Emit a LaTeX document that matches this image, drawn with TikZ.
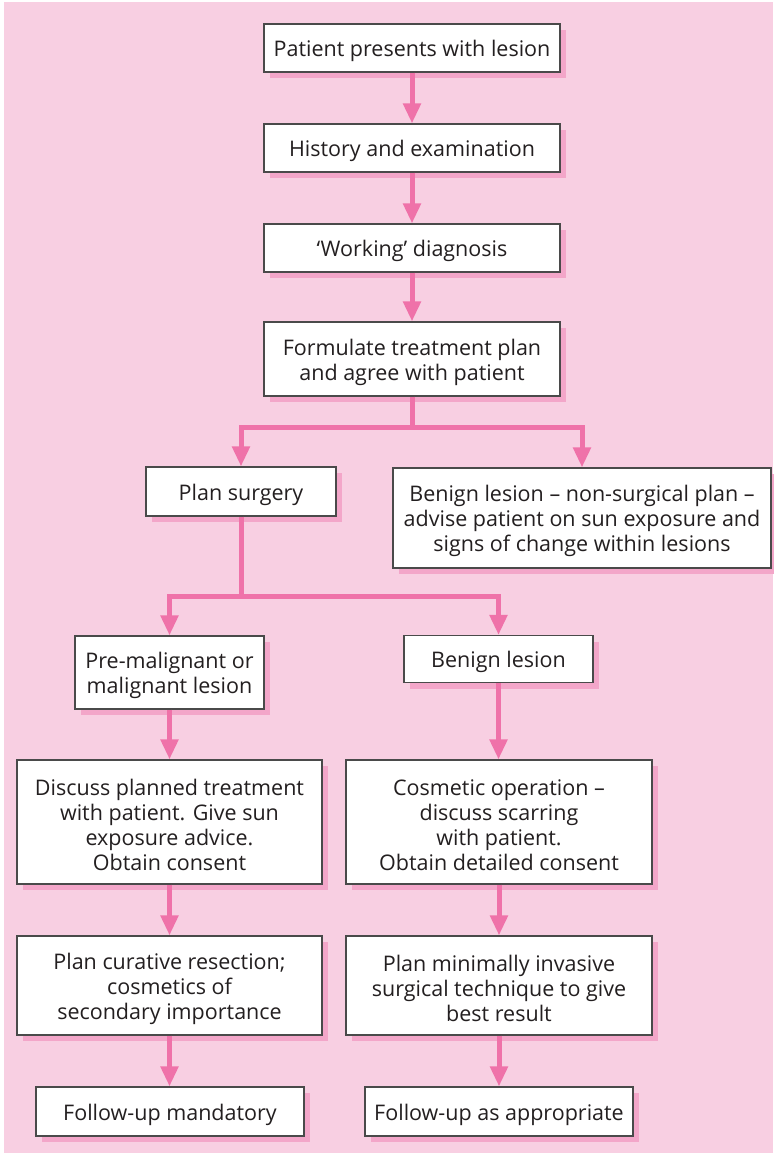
\documentclass[tikz,border=0pt]{standalone}
\usepackage{fontspec}
\setmainfont{Open Sans}
\usetikzlibrary{arrows.meta,shadows}
\definecolor{bgpink}{HTML}{F8CFE2}
\definecolor{arrpink}{HTML}{EF72A9}
\definecolor{shpink}{HTML}{F3A6C9}
\definecolor{boxline}{HTML}{4A4A4A}
\definecolor{txt}{HTML}{231F20}
\tikzset{
  box/.style={draw=boxline, line width=1.1pt, fill=white, inner sep=0pt,
    drop shadow={shadow xshift=6pt, shadow yshift=-6pt, fill=shpink, opacity=1}},
  boxtext/.style={inner sep=0pt, align=center, text=txt,
    font=\fontsize{21.5}{25}\selectfont},
  flow/.style={draw=arrpink, line width=5pt},
  arr/.style={flow, -{Triangle[width=17pt,length=20pt]}},
}
\newcommand{\bx}[6]{%
  \node[box, minimum width=#2pt, minimum height=#3pt] (#1) at (#4,#5) {};
  \node[boxtext] (#1-t) at ([yshift=-3pt]#1.center) {#6};}
\begin{document}
\begin{tikzpicture}[x=1pt,y=-1pt]
\useasboundingbox (0,0) rectangle (773,1155);
\fill[bgpink] (4,2) rectangle (773,1153);
% boxes: name, width, height, cx, cy, text
\bx{n1}{296}{48}{412}{48}{Patient presents with lesion}
\bx{n2}{296}{48}{412}{148}{History and examination}
\bx{n3}{296}{48}{412}{248}{‘Working’ diagnosis}
\bx{n4}{296}{74}{412}{359}{Formulate treatment plan\\and agree with patient}
\bx{n5}{190}{49}{241}{491.5}{Plan surgery}
\bx{n6}{378}{100}{582}{518}{Benign lesion – non-surgical plan –\\advise patient on sun exposure and\\signs of change within lesions}
\bx{n7}{189}{73}{169.5}{672.5}{Pre-malignant or\\malignant lesion}
\bx{n8}{189}{47}{498.5}{659}{Benign lesion}
\bx{n9}{305}{124}{169.5}{822}{Discuss planned treatment\\with patient. Give sun\\exposure advice.\\Obtain consent}
\bx{n10}{306}{124}{499}{822}{Cosmetic operation –\\discuss scarring\\with patient.\\Obtain detailed consent}
\bx{n11}{305}{99}{169.5}{985.5}{Plan curative resection;\\cosmetics of\\secondary importance}
\bx{n12}{306}{99}{499}{985.5}{Plan minimally invasive\\surgical technique to give\\best result}
\bx{n13}{268}{49}{170}{1111.5}{Follow-up mandatory}
\bx{n14}{268}{49}{499}{1111.5}{Follow-up as appropriate}
% connectors
\draw[arr] (n1) -- (n2);
\draw[arr] (n2) -- (n3);
\draw[arr] (n3) -- (n4);
\coordinate (j1) at (412,427);
\draw[flow] (n4.south) -- (j1);
\draw[arr] (j1) -| (n5.north);
\draw[arr] (j1) -| (n6.north);
\coordinate (j2) at (241,596);
\draw[flow] (n5.south) -- (j2);
\draw[arr] (j2) -| (n7.north);
\draw[arr] (j2) -| (n8.north);
\draw[arr] (n7) -- (n9);
\draw[arr] (n8.south) -- (n10.north -| n8.south);
\draw[arr] (n9) -- (n11);
\draw[arr] (n10) -- (n12);
\draw[arr] (n11.south) -- (n13.north -| n11.south);
\draw[arr] (n12) -- (n14);
\end{tikzpicture}
\end{document}
